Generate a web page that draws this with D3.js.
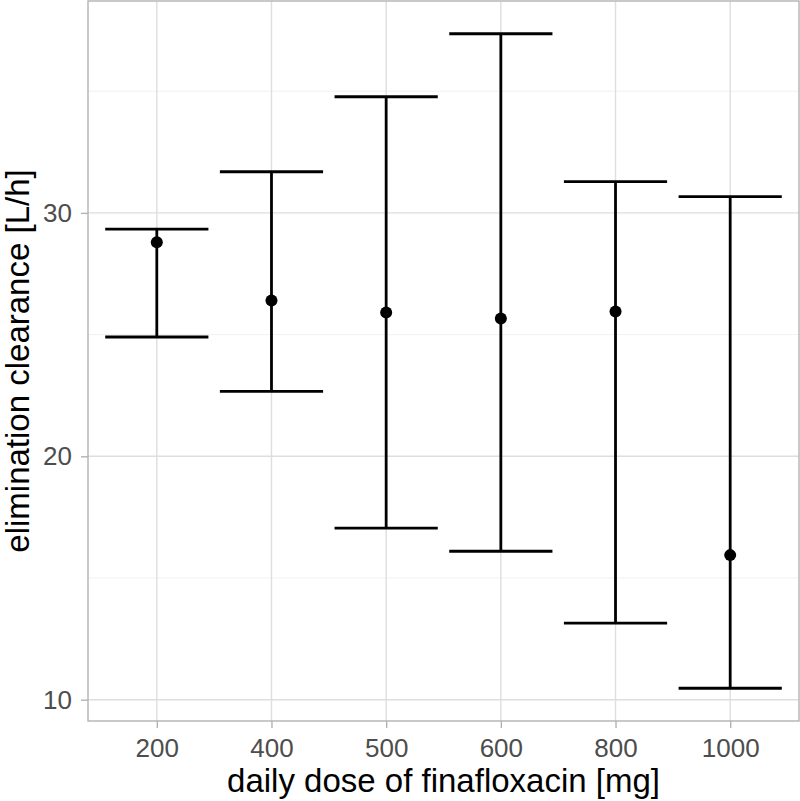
<!DOCTYPE html>
<html>
<head>
<meta charset="utf-8">
<script src="https://cdn.jsdelivr.net/npm/d3@7"></script>
<style>
  body { margin: 0; background: #fff; }
  svg { display: block; font-family: "Liberation Sans", Arial, sans-serif; }
</style>
</head>
<body>
<div id="chart"></div>
<script>
const doses = ["200", "400", "500", "600", "800", "1000"];
const meanCl = [28.79, 26.40, 25.91, 25.66, 25.95, 15.94];
const lowerCl = [24.90, 22.67, 17.05, 16.10, 13.15, 10.47];
const upperCl = [29.33, 31.69, 34.77, 37.36, 31.28, 30.67];
const yTicks = [10, 20, 30];
const yMinor = [15, 25, 35];

const W = 800, H = 801;
const MARGIN = { LEFT: 88, RIGHT: 1, TOP: 1, BOTTOM: 80 };
const WIDTH = W - MARGIN.LEFT - MARGIN.RIGHT;
const HEIGHT = H - MARGIN.TOP - MARGIN.BOTTOM;

const svg = d3.select("#chart").append("svg")
  .attr("width", W)
  .attr("height", H);

const g = svg.append("g")
  .attr("transform", `translate(${MARGIN.LEFT}, ${MARGIN.TOP})`);

// discrete x like ggplot: 0.6 expansion each side
const x = d3.scalePoint()
  .domain(doses)
  .range([0, WIDTH])
  .padding(0.6);
const step = x.step();

const lo = d3.min(lowerCl), hi = d3.max(upperCl);
const pad = (hi - lo) * 0.05;
const y = d3.scaleLinear()
  .domain([lo - pad, hi + pad])
  .range([HEIGHT, 0]);

// grid
g.selectAll(".minor").data(yMinor).enter().append("line")
  .attr("x1", 0).attr("x2", WIDTH)
  .attr("y1", d => y(d)).attr("y2", d => y(d))
  .attr("stroke", "#ebebeb").attr("stroke-width", 0.7);
g.selectAll(".majorY").data(yTicks).enter().append("line")
  .attr("x1", 0).attr("x2", WIDTH)
  .attr("y1", d => y(d)).attr("y2", d => y(d))
  .attr("stroke", "#dedede").attr("stroke-width", 1.4);
g.selectAll(".majorX").data(doses).enter().append("line")
  .attr("y1", 0).attr("y2", HEIGHT)
  .attr("x1", d => x(d)).attr("x2", d => x(d))
  .attr("stroke", "#dedede").attr("stroke-width", 1.4);

// axes
const xAxis = g.append("g")
  .attr("transform", `translate(0, ${HEIGHT})`)
  .call(d3.axisBottom(x).tickSize(7).tickPadding(11));
const yAxis = g.append("g")
  .call(d3.axisLeft(y).tickValues(yTicks).tickSize(7).tickPadding(9));
[xAxis, yAxis].forEach(a => {
  a.select(".domain").remove();
  a.selectAll(".tick line").attr("stroke", "#b3b3b3").attr("stroke-width", 1.4);
  a.selectAll(".tick text").attr("fill", "#4d4d4d").style("font-size", "26px");
});

// panel border
g.append("rect")
  .attr("x", 0).attr("y", 0)
  .attr("width", WIDTH).attr("height", HEIGHT)
  .attr("fill", "none").attr("stroke", "#b3b3b3").attr("stroke-width", 1.4);

// error bars
const rows = doses.map((d, i) => ({ dose: d, mean: meanCl[i], lower: lowerCl[i], upper: upperCl[i] }));
const capW = step * 0.9;
const eb = g.selectAll(".eb").data(rows).enter().append("g");
eb.append("line")
  .attr("x1", d => x(d.dose)).attr("x2", d => x(d.dose))
  .attr("y1", d => y(d.lower)).attr("y2", d => y(d.upper))
  .attr("stroke", "#000").attr("stroke-width", 2.8);
eb.append("line")
  .attr("x1", d => x(d.dose) - capW / 2).attr("x2", d => x(d.dose) + capW / 2)
  .attr("y1", d => y(d.upper)).attr("y2", d => y(d.upper))
  .attr("stroke", "#000").attr("stroke-width", 2.8);
eb.append("line")
  .attr("x1", d => x(d.dose) - capW / 2).attr("x2", d => x(d.dose) + capW / 2)
  .attr("y1", d => y(d.lower)).attr("y2", d => y(d.lower))
  .attr("stroke", "#000").attr("stroke-width", 2.8);
eb.append("circle")
  .attr("cx", d => x(d.dose)).attr("cy", d => y(d.mean))
  .attr("r", 6).attr("fill", "#000");

// titles
svg.append("text")
  .attr("x", MARGIN.LEFT + WIDTH / 2).attr("y", 792)
  .attr("text-anchor", "middle")
  .style("font-size", "33px")
  .text("daily dose of finafloxacin [mg]");
svg.append("text")
  .attr("transform", `translate(29, ${MARGIN.TOP + HEIGHT / 2}) rotate(-90)`)
  .attr("text-anchor", "middle")
  .style("font-size", "33px")
  .text("elimination clearance [L/h]");
</script>
</body>
</html>
